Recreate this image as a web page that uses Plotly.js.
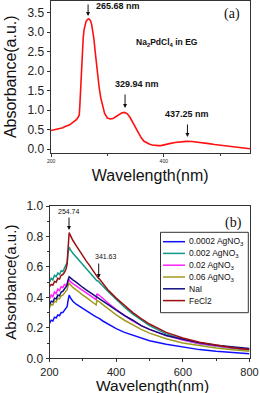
<!DOCTYPE html>
<html>
<head>
<meta charset="utf-8">
<script src="https://cdn.plot.ly/plotly-3.0.1.min.js"></script>
<style>html,body{margin:0;padding:0;background:#fff;}#chart{width:260px;height:393px;}</style>
</head>
<body>
<div id="chart"></div>
<script>
// ---------- Panel (a): Na2PdCl4 in EG ----------
const wlA = [200,203,206,209,212,215,218,221,224,227,230,233,236,239,242,245,248,250,251,252.5,254,255.5,257,258.5,260,262,264,266,268,270,272,274,276,278,280,282,285,288,291,295,300,305,310,315,320,325,330,335,340,345,350,355,360,365,370,375,380,385,390,395,400,410,420,430,440,450,460,470,480,490,500,510,520,530,540,553];
const absA = [0.48,0.49,0.50,0.505,0.52,0.525,0.545,0.55,0.575,0.585,0.61,0.625,0.66,0.69,0.72,0.76,0.82,0.88,1.10,1.62,2.10,2.52,2.85,3.05,3.17,3.27,3.31,3.34,3.33,3.29,3.20,3.06,2.83,2.54,2.22,1.95,1.62,1.33,1.12,0.92,0.80,0.775,0.79,0.83,0.885,0.93,0.945,0.915,0.82,0.69,0.54,0.41,0.295,0.205,0.16,0.13,0.11,0.097,0.093,0.095,0.115,0.145,0.173,0.192,0.203,0.200,0.187,0.168,0.145,0.124,0.106,0.090,0.075,0.058,0.038,0.015];

// ---------- Panel (b) ----------
const wlB = [200,205,210,215,220,225,230,235,240,245,250,253,255,257,259,262,266,270,280,290,300,310,320,330,340,342,345,350,360,375,400,425,450,475,500,550,600,650,700,750,800];
const seriesNames = ['0.0002 AgNO<sub>3</sub>','0.002 AgNO<sub>3</sub>','0.02 AgNO<sub>3</sub>','0.06 AgNO<sub>3</sub>','NaI','FeCl2'];
const seriesColors = ['#1010ff','#119988','#ff22ff','#a09a20','#101080','#9a1010'];
const ag0002 = [0.23,0.25,0.245,0.27,0.265,0.285,0.28,0.30,0.30,0.315,0.33,0.34,0.37,0.41,0.415,0.40,0.385,0.375,0.355,0.34,0.33,0.315,0.30,0.285,0.272,0.27,0.266,0.26,0.245,0.225,0.195,0.17,0.15,0.13,0.115,0.092,0.072,0.057,0.046,0.037,0.030];
const ag002 = [0.50,0.525,0.515,0.545,0.535,0.56,0.55,0.575,0.57,0.595,0.61,0.63,0.68,0.72,0.73,0.715,0.70,0.69,0.665,0.64,0.615,0.59,0.565,0.54,0.515,0.51,0.51,0.50,0.475,0.44,0.385,0.335,0.29,0.25,0.215,0.16,0.122,0.096,0.078,0.064,0.054];
const ag02 = [0.39,0.415,0.405,0.435,0.425,0.455,0.445,0.47,0.465,0.485,0.48,0.49,0.50,0.51,0.515,0.505,0.495,0.49,0.475,0.46,0.445,0.43,0.415,0.40,0.385,0.42,0.42,0.412,0.395,0.365,0.32,0.28,0.245,0.215,0.19,0.15,0.12,0.097,0.080,0.067,0.058];
const ag06 = [0.33,0.355,0.35,0.375,0.37,0.395,0.39,0.41,0.415,0.43,0.44,0.45,0.47,0.49,0.495,0.485,0.475,0.465,0.45,0.43,0.415,0.40,0.385,0.37,0.35,0.38,0.378,0.37,0.352,0.325,0.285,0.25,0.218,0.19,0.165,0.128,0.10,0.081,0.067,0.056,0.047];
const nai = [0.35,0.375,0.37,0.395,0.39,0.415,0.41,0.435,0.44,0.455,0.47,0.48,0.51,0.53,0.535,0.53,0.52,0.515,0.50,0.48,0.465,0.45,0.435,0.42,0.405,0.40,0.397,0.39,0.375,0.35,0.315,0.28,0.25,0.215,0.19,0.15,0.125,0.102,0.086,0.074,0.065];
const fecl2 = [0.47,0.485,0.48,0.505,0.50,0.525,0.52,0.545,0.55,0.565,0.59,0.62,0.70,0.79,0.825,0.81,0.79,0.775,0.74,0.705,0.67,0.64,0.61,0.575,0.545,0.54,0.53,0.52,0.49,0.45,0.395,0.345,0.30,0.26,0.225,0.17,0.133,0.105,0.085,0.070,0.058];
const seriesB = [ag0002, ag002, ag02, ag06, nai, fecl2];

const FONT = 'Arial, "Liberation Sans", sans-serif';
const SERIF = '"Times New Roman", "Liberation Serif", serif';
const W = 260, H = 393;
const px = v => v / W;
const py = v => 1 - v / H;

const traces = [{
  x: wlA, y: absA, type: 'scatter', mode: 'lines', xaxis: 'x', yaxis: 'y',
  line: {color: '#ff1010', width: 1.6}, showlegend: false
}];
seriesB.forEach((s, i) => traces.push({
  x: wlB, y: s, type: 'scatter', mode: 'lines', xaxis: 'x2', yaxis: 'y2',
  name: seriesNames[i], line: {color: seriesColors[i], width: 1.5}, showlegend: false
}));

const axisBase = {
  showline: true, mirror: true, linecolor: '#333', linewidth: 1,
  ticks: 'outside', ticklen: 3, tickcolor: '#333', showgrid: false, zeroline: false,
  tickfont: {size: 12, color: '#222', family: FONT}
};

const shapes = [];
const annotations = [];

// custom legend for panel (b)
shapes.push({type: 'rect', xref: 'paper', yref: 'paper', x0: px(160.5), x1: px(248.3), y0: py(312.7), y1: py(232.3), line: {color: '#333', width: 1}, fillcolor: 'white'});
const rowY = [241.7, 253.4, 265.2, 277.0, 288.8, 300.6];
seriesNames.forEach((n, i) => {
  shapes.push({type: 'line', xref: 'paper', yref: 'paper', x0: px(163), x1: px(185), y0: py(rowY[i]), y1: py(rowY[i]), line: {color: seriesColors[i], width: 1.5}});
  annotations.push({xref: 'paper', yref: 'paper', x: px(187), y: py(rowY[i]), xanchor: 'left', yanchor: 'middle', text: n, showarrow: false, font: {size: 8.5, family: FONT, color: '#111'}});
});

const arrowStyle = {text: '', showarrow: true, arrowhead: 2, arrowsize: 0.8, arrowwidth: 1, arrowcolor: '#111', ax: 0};

// Panel (a) labels
annotations.push(
  {xref: 'paper', yref: 'paper', x: px(94), y: py(6), xanchor: 'left', yanchor: 'middle', text: '<b>265.68 nm</b>', showarrow: false, font: {size: 9, family: FONT, color: '#111'}},
  Object.assign({xref: 'x', yref: 'y', x: 265.68, y: 3.415, ay: -13}, arrowStyle),
  {xref: 'paper', yref: 'paper', x: px(136.7), y: py(84.3), xanchor: 'center', yanchor: 'middle', text: '<b>329.94 nm</b>', showarrow: false, font: {size: 9, family: FONT, color: '#111'}},
  Object.assign({xref: 'x', yref: 'y', x: 331.3, y: 1.058, ay: -15}, arrowStyle),
  {xref: 'paper', yref: 'paper', x: px(187), y: py(114.3), xanchor: 'center', yanchor: 'middle', text: '<b>437.25 nm</b>', showarrow: false, font: {size: 9, family: FONT, color: '#111'}},
  Object.assign({xref: 'x', yref: 'y', x: 442, y: 0.315, ay: -14}, arrowStyle),
  {xref: 'paper', yref: 'paper', x: px(166.7), y: py(42.7), xanchor: 'center', yanchor: 'middle', text: '<b>Na<sub>2</sub>PdCl<sub>4</sub> in EG</b>', showarrow: false, font: {size: 8.5, family: FONT, color: '#111'}},
  {xref: 'paper', yref: 'paper', x: px(231.7), y: py(14.3), xanchor: 'center', yanchor: 'middle', text: '(a)', showarrow: false, font: {size: 14, family: SERIF, color: '#111'}},
  // Panel (b) labels
  {xref: 'paper', yref: 'paper', x: px(69), y: py(211.7), xanchor: 'center', yanchor: 'middle', text: '254.74', showarrow: false, font: {size: 7, family: FONT, color: '#111'}},
  Object.assign({xref: 'x2', yref: 'y2', x: 258.5, y: 0.842, ay: -14}, arrowStyle),
  {xref: 'paper', yref: 'paper', x: px(105.7), y: py(256.7), xanchor: 'center', yanchor: 'middle', text: '341.63', showarrow: false, font: {size: 7, family: FONT, color: '#111'}},
  Object.assign({xref: 'x2', yref: 'y2', x: 347.6, y: 0.527, ay: -16}, arrowStyle),
  {xref: 'paper', yref: 'paper', x: px(233.3), y: py(223.3), xanchor: 'center', yanchor: 'middle', text: '(b)', showarrow: false, font: {size: 14, family: SERIF, color: '#111'}},
  // Panel (b) x-axis title
  {xref: 'paper', yref: 'paper', x: px(152), y: py(385.5), xanchor: 'center', yanchor: 'middle', text: 'Wavelength(nm)', showarrow: false, font: {size: 15.5, family: FONT, color: '#111'}}
);

const layout = {
  width: W, height: H, margin: {l: 0, r: 0, t: 0, b: 0},
  paper_bgcolor: 'white', plot_bgcolor: 'white', showlegend: false,
  font: {family: FONT, color: '#222'},
  xaxis: Object.assign({}, axisBase, {
    domain: [px(50.5), px(250)], range: [199, 553], anchor: 'y',
    tickvals: [200, 400], tickfont: {size: 5, color: '#222', family: FONT},
    minor: {tickvals: [300, 500], ticks: 'outside', ticklen: 2, tickcolor: '#333'},
    title: {text: 'Wavelength(nm)', font: {size: 16, color: '#111', family: FONT}, standoff: 6}
  }),
  yaxis: Object.assign({}, axisBase, {
    domain: [py(153), py(0.5)], range: [-0.095, 3.81], anchor: 'x',
    tick0: 0, dtick: 0.5, tickformat: '.1f',
    title: {text: 'Absorbance(a.u.)', font: {size: 16, color: '#111', family: FONT}, standoff: 6}
  }),
  xaxis2: Object.assign({}, axisBase, {
    domain: [px(49.5), px(249.5)], range: [200, 800], anchor: 'y2',
    tick0: 200, dtick: 200, tickfont: {size: 11, color: '#222', family: FONT},
    minor: {dtick: 100, ticks: 'outside', ticklen: 2, tickcolor: '#333'}
  }),
  yaxis2: Object.assign({}, axisBase, {
    domain: [py(358.3), py(206)], range: [0, 1.0], anchor: 'x2',
    tick0: 0, dtick: 0.2, tickformat: '.1f',
    minor: {dtick: 0.1, ticks: 'outside', ticklen: 2, tickcolor: '#333'},
    title: {text: 'Absorbance(a.u.)', font: {size: 15, color: '#111', family: FONT}, standoff: 6}
  }),
  shapes: shapes,
  annotations: annotations
};

Plotly.newPlot('chart', traces, layout, {staticPlot: true, displayModeBar: false});
</script>
</body>
</html>
